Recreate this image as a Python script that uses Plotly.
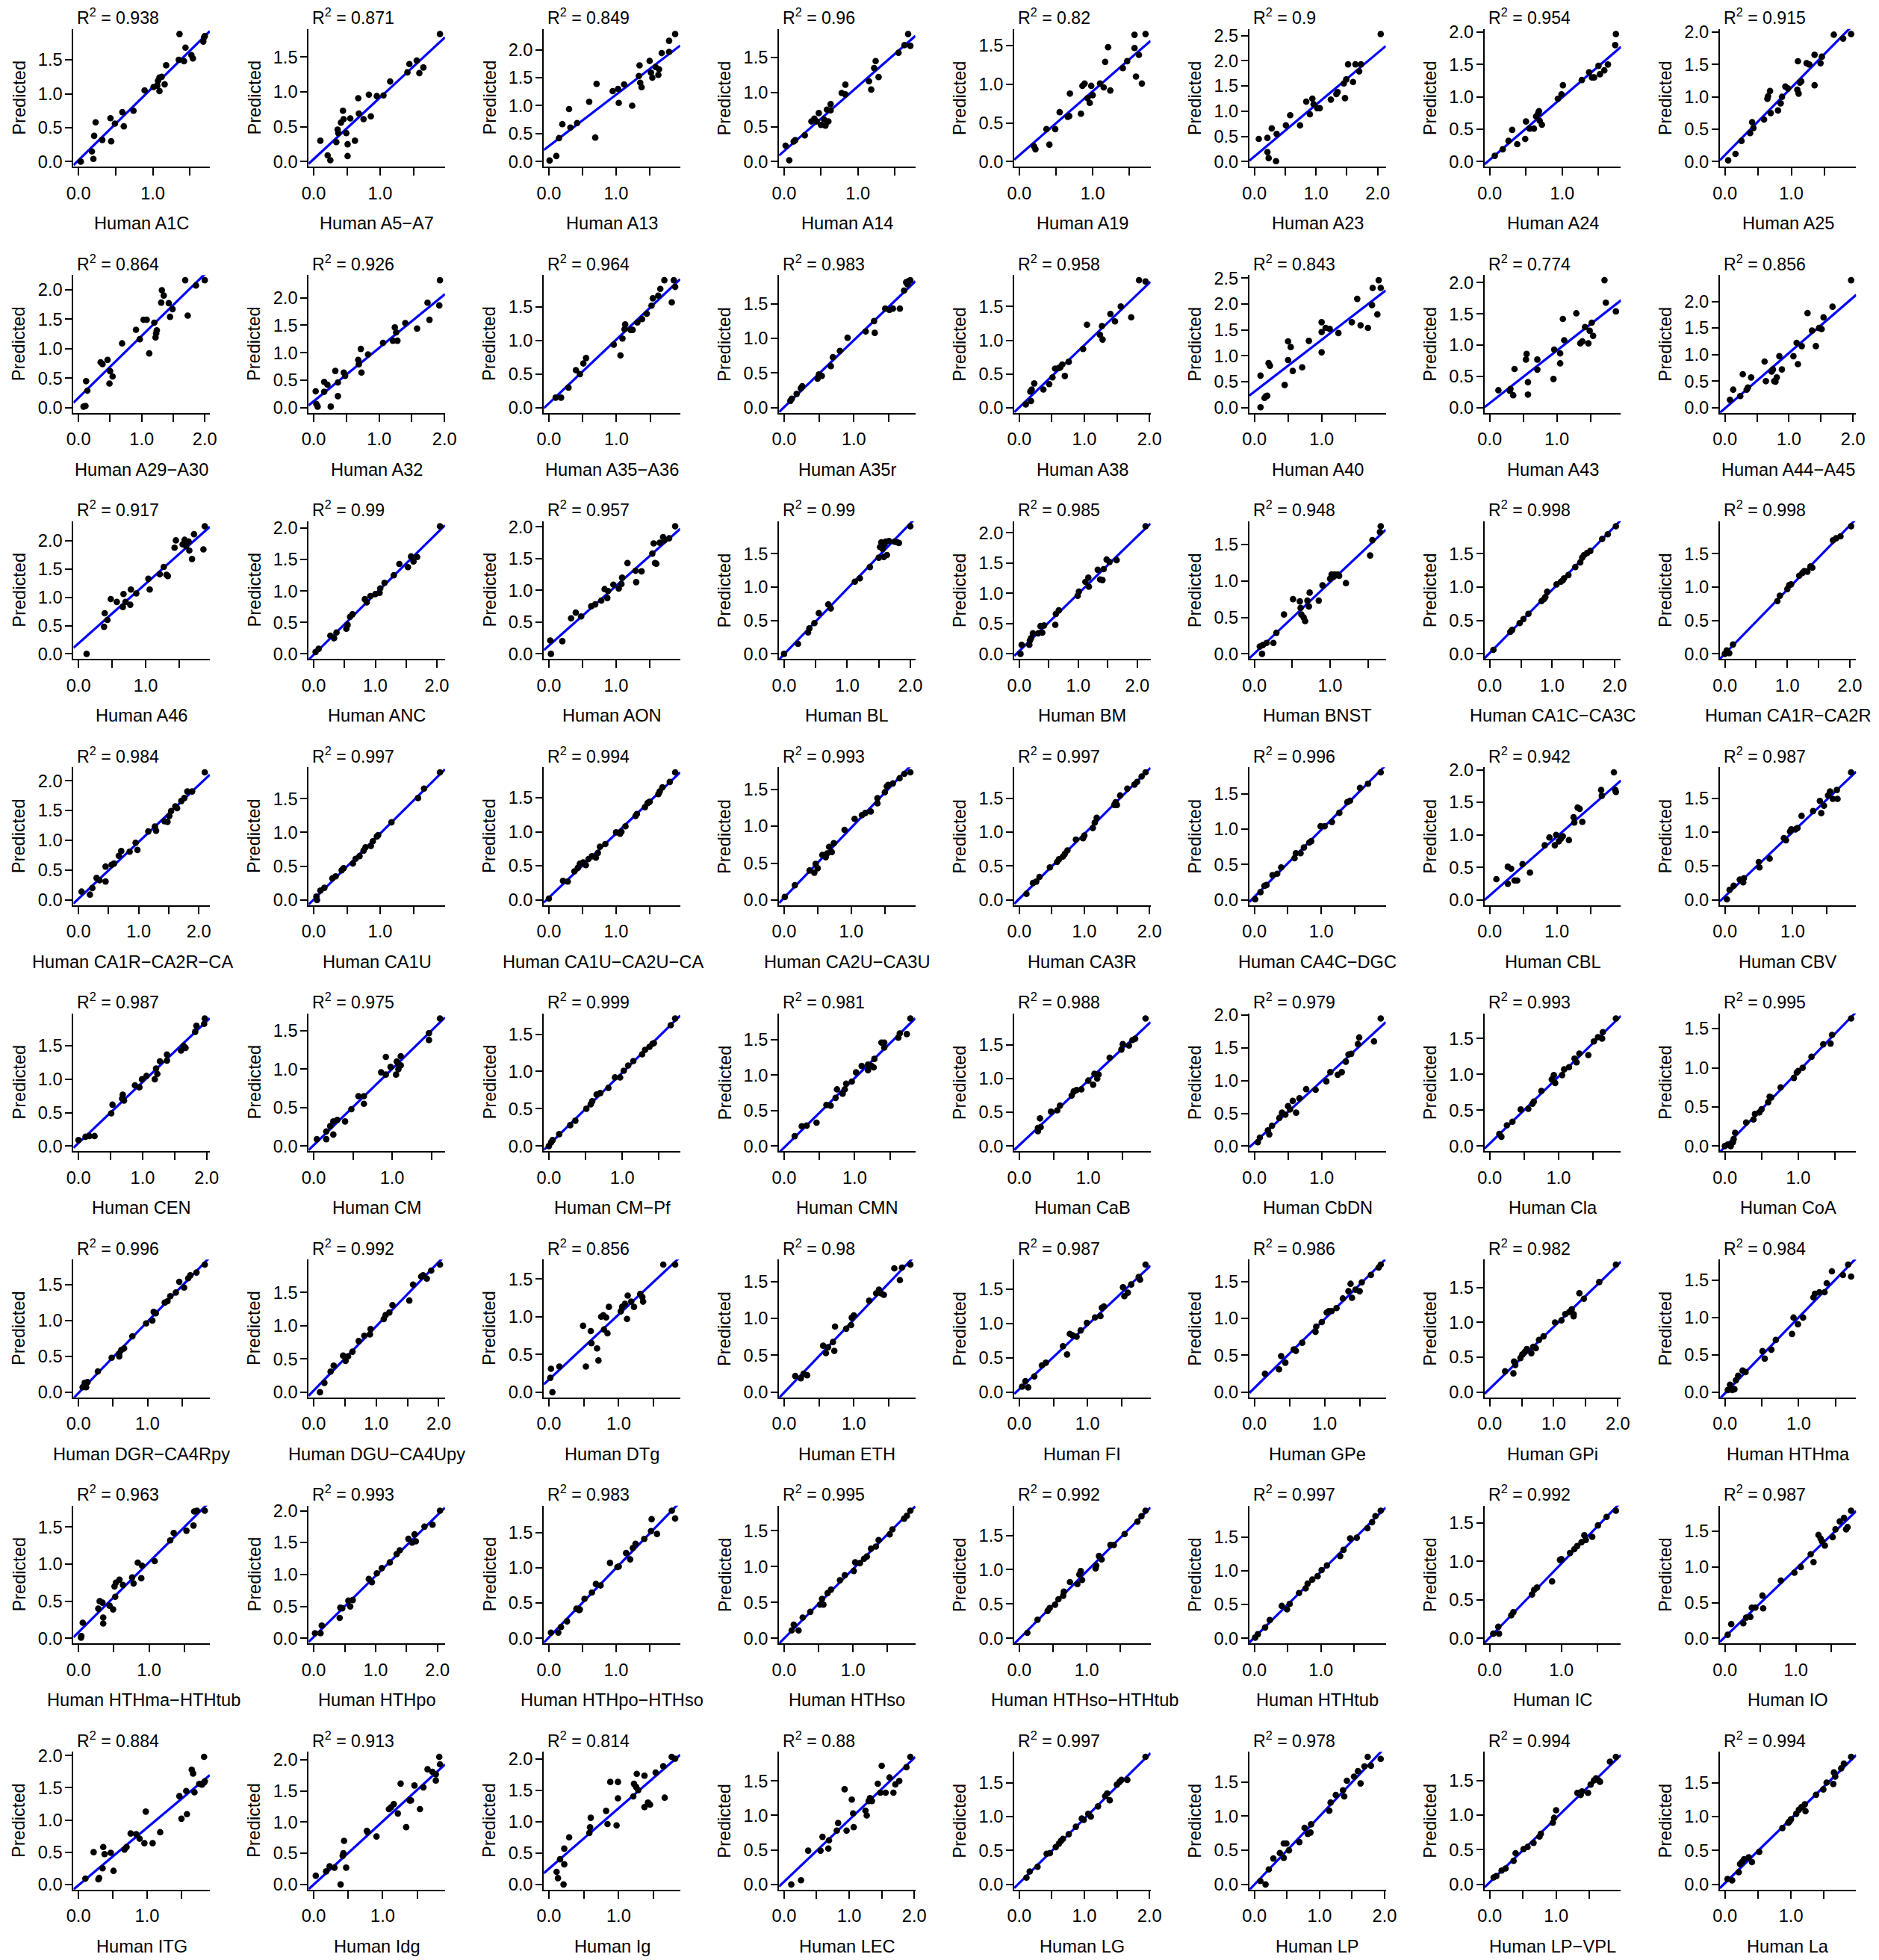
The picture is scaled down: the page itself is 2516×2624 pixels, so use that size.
import numpy as np
import plotly.graph_objects as go

# ---------------- data ----------------
names = [
    "Human A1C", "Human A5−A7", "Human A13", "Human A14", "Human A19", "Human A23", "Human A24", "Human A25",
    "Human A29−A30", "Human A32", "Human A35−A36", "Human A35r", "Human A38", "Human A40", "Human A43", "Human A44−A45",
    "Human A46", "Human ANC", "Human AON", "Human BL", "Human BM", "Human BNST", "Human CA1C−CA3C", "Human CA1R−CA2R",
    "Human CA1R−CA2R−CA3R", "Human CA1U", "Human CA1U−CA2U−CA3U", "Human CA2U−CA3U", "Human CA3R", "Human CA4C−DGC", "Human CBL", "Human CBV",
    "Human CEN", "Human CM", "Human CM−Pf", "Human CMN", "Human CaB", "Human CbDN", "Human Cla", "Human CoA",
    "Human DGR−CA4Rpy", "Human DGU−CA4Upy", "Human DTg", "Human ETH", "Human FI", "Human GPe", "Human GPi", "Human HTHma",
    "Human HTHma−HTHtub", "Human HTHpo", "Human HTHpo−HTHso", "Human HTHso", "Human HTHso−HTHtub", "Human HTHtub", "Human IC", "Human IO",
    "Human ITG", "Human Idg", "Human Ig", "Human LEC", "Human LG", "Human LP", "Human LP−VPL", "Human La",
]
r2 = [
    "0.938", "0.871", "0.849", "0.96", "0.82", "0.9", "0.954", "0.915",
    "0.864", "0.926", "0.964", "0.983", "0.958", "0.843", "0.774", "0.856",
    "0.917", "0.99", "0.957", "0.99", "0.985", "0.948", "0.998", "0.998",
    "0.984", "0.997", "0.994", "0.993", "0.997", "0.996", "0.942", "0.987",
    "0.987", "0.975", "0.999", "0.981", "0.988", "0.979", "0.993", "0.995",
    "0.996", "0.992", "0.856", "0.98", "0.987", "0.986", "0.982", "0.984",
    "0.963", "0.993", "0.983", "0.995", "0.992", "0.997", "0.992", "0.987",
    "0.884", "0.913", "0.814", "0.88", "0.997", "0.978", "0.994", "0.994",
]

p01_x = [0.03,0.18,0.20,0.21,0.23,0.32,0.43,0.44,0.49,0.59,0.61,0.74,0.89,1.01,1.06,1.07,1.09,1.12,1.09,1.16,1.18,1.35,1.36,1.42,1.44,1.52,1.54,1.68,1.69,1.70]
p01_y = [0.00,0.15,0.04,0.38,0.58,0.32,0.64,0.30,0.56,0.73,0.52,0.75,1.05,1.10,1.12,1.19,1.24,1.25,1.04,1.14,1.42,1.50,1.88,1.48,1.68,1.57,1.52,1.77,1.83,1.85]
p02_x = [0.10,0.21,0.25,0.34,0.36,0.37,0.41,0.44,0.45,0.49,0.51,0.51,0.55,0.62,0.67,0.68,0.75,0.83,0.86,0.95,1.05,1.15,1.41,1.44,1.55,1.59,1.65,1.90]
p02_y = [0.30,0.09,0.02,0.28,0.46,0.41,0.56,0.73,0.61,0.41,0.25,0.08,0.62,0.30,0.91,0.69,0.61,0.96,0.65,0.94,0.95,1.15,1.28,1.40,1.45,1.27,1.35,1.83]
p03_x = [0.01,0.11,0.15,0.20,0.30,0.32,0.42,0.60,0.69,0.71,0.95,1.03,1.04,1.12,1.24,1.34,1.35,1.36,1.38,1.50,1.52,1.54,1.59,1.63,1.64,1.68,1.79,1.79,1.88]
p03_y = [0.02,0.10,0.42,0.67,0.94,0.61,0.69,1.07,0.43,1.39,1.26,1.30,1.05,1.38,1.00,1.53,1.72,1.41,1.33,1.80,1.59,1.50,1.69,1.55,1.65,1.94,2.16,1.96,2.28]
p04_x = [0.02,0.07,0.13,0.15,0.28,0.37,0.41,0.44,0.47,0.50,0.54,0.56,0.58,0.60,0.63,0.63,0.78,0.83,0.83,1.15,1.18,1.22,1.24,1.28,1.55,1.63,1.68,1.71]
p04_y = [0.23,0.02,0.29,0.31,0.38,0.58,0.62,0.58,0.70,0.53,0.61,0.52,0.75,0.58,0.83,0.74,0.99,1.11,0.97,1.16,1.04,1.35,1.45,1.22,1.57,1.68,1.84,1.67]
p05_x = [0.20,0.22,0.37,0.41,0.49,0.55,0.66,0.68,0.69,0.84,0.86,0.89,0.93,0.96,0.98,1.00,1.10,1.15,1.17,1.21,1.24,1.41,1.47,1.57,1.57,1.59,1.63,1.67,1.72]
p05_y = [0.20,0.16,0.42,0.22,0.42,0.64,0.58,0.59,0.88,0.62,0.98,1.01,0.82,0.76,0.98,0.86,1.01,0.96,1.29,1.48,0.92,1.21,1.30,1.47,1.64,1.10,1.38,1.01,1.65]
p06_x = [0.07,0.21,0.21,0.23,0.28,0.35,0.36,0.51,0.58,0.74,0.84,0.90,0.94,0.96,1.02,1.06,1.24,1.33,1.35,1.45,1.47,1.49,1.52,1.60,1.64,1.70,1.73,2.05]
p06_y = [0.45,0.47,0.19,0.07,0.66,0.01,0.55,0.72,0.92,0.72,1.19,0.94,1.25,1.14,1.06,1.06,1.23,1.34,1.38,1.55,1.26,1.63,1.93,1.58,1.93,1.79,1.93,2.53]
p07_x = [0.07,0.18,0.26,0.31,0.38,0.49,0.50,0.55,0.61,0.64,0.67,0.68,0.69,0.72,0.94,0.99,1.01,1.27,1.37,1.41,1.44,1.50,1.52,1.58,1.63,1.73,1.74]
p07_y = [0.09,0.19,0.32,0.49,0.27,0.35,0.62,0.51,0.51,0.70,0.75,0.78,0.63,0.57,0.97,1.04,1.18,1.26,1.38,1.30,1.30,1.48,1.35,1.41,1.50,1.80,1.97]
p08_x = [0.05,0.16,0.25,0.38,0.41,0.43,0.59,0.64,0.65,0.68,0.69,0.80,0.84,0.86,0.91,0.95,1.09,1.11,1.13,1.15,1.10,1.23,1.27,1.35,1.35,1.44,1.46,1.64,1.78,1.90]
p08_y = [0.02,0.12,0.32,0.44,0.61,0.52,0.65,0.97,1.01,1.09,0.75,0.79,0.90,1.00,1.16,1.13,1.11,1.05,1.22,1.24,1.55,1.52,1.50,1.18,1.65,1.52,1.62,1.96,1.90,1.97]
p09_x = [0.08,0.11,0.12,0.14,0.35,0.38,0.46,0.50,0.49,0.54,0.69,0.91,0.97,1.03,1.08,1.12,1.20,1.22,1.23,1.24,1.31,1.32,1.35,1.43,1.45,1.49,1.69,1.73,1.86,2.00]
p09_y = [0.02,0.03,0.45,0.29,0.77,0.74,0.81,0.62,0.41,0.53,1.09,1.32,1.16,1.49,1.49,0.92,1.44,1.19,1.26,1.31,1.78,1.99,1.90,1.77,1.54,1.67,2.16,1.56,2.07,2.16]
p10_x = [0.03,0.04,0.06,0.16,0.16,0.21,0.26,0.33,0.37,0.37,0.46,0.48,0.68,0.69,0.72,0.73,0.83,1.06,1.21,1.24,1.26,1.28,1.40,1.58,1.74,1.77,1.92,1.93]
p10_y = [0.30,0.07,0.02,0.29,0.47,0.42,0.02,0.67,0.46,0.21,0.64,0.58,0.87,0.79,1.07,0.64,0.97,1.18,1.22,1.46,1.37,1.22,1.54,1.44,1.91,1.60,1.86,2.32]
p11_x = [0.10,0.18,0.29,0.40,0.46,0.51,0.55,0.96,1.06,1.09,1.12,1.13,1.21,1.24,1.31,1.38,1.45,1.52,1.54,1.62,1.65,1.71,1.82,1.85,1.87]
p11_y = [0.15,0.15,0.30,0.56,0.50,0.66,0.74,0.94,0.78,1.03,1.17,1.24,1.16,1.16,1.27,1.32,1.40,1.52,1.63,1.67,1.77,1.90,1.57,1.90,1.80]
p12_x = [0.09,0.11,0.18,0.24,0.26,0.48,0.50,0.54,0.67,0.70,0.80,0.91,1.17,1.29,1.30,1.45,1.51,1.56,1.66,1.72,1.75,1.77,1.79,1.81]
p12_y = [0.10,0.13,0.20,0.28,0.31,0.42,0.48,0.46,0.60,0.73,0.82,1.01,1.10,1.25,1.08,1.43,1.41,1.43,1.43,1.69,1.81,1.78,1.83,1.84]
p13_x = [0.10,0.17,0.18,0.19,0.23,0.37,0.46,0.51,0.55,0.61,0.63,0.66,0.70,0.76,0.98,1.04,1.24,1.27,1.28,1.40,1.47,1.56,1.72,1.84,1.94]
p13_y = [0.05,0.24,0.10,0.27,0.36,0.27,0.35,0.45,0.58,0.59,0.60,0.64,0.47,0.68,0.87,1.23,1.08,1.21,1.01,1.39,1.28,1.50,1.34,1.89,1.87]
p14_x = [0.09,0.09,0.15,0.17,0.19,0.21,0.23,0.45,0.50,0.50,0.54,0.57,0.71,0.81,1.00,1.00,1.00,1.06,1.12,1.25,1.45,1.53,1.58,1.69,1.75,1.76,1.83,1.85,1.88]
p14_y = [0.01,0.62,0.19,0.22,0.23,0.86,0.81,0.44,1.28,0.92,1.17,0.71,0.78,1.29,1.65,1.46,1.07,1.54,1.52,1.44,1.65,2.10,1.59,1.54,1.98,2.31,1.80,2.46,2.31]
p15_x = [0.13,0.30,0.31,0.35,0.37,0.54,0.55,0.57,0.57,0.71,0.71,0.95,0.96,1.05,1.05,1.09,1.11,1.29,1.35,1.38,1.42,1.47,1.49,1.52,1.54,1.71,1.73,1.88]
p15_y = [0.28,0.27,0.30,0.20,0.62,0.77,0.86,0.41,0.21,0.61,0.77,0.46,0.93,0.87,0.71,1.42,1.08,1.51,1.03,1.06,1.29,1.03,1.23,1.36,1.15,2.04,1.68,1.54]
p16_x = [0.08,0.13,0.24,0.28,0.34,0.36,0.41,0.62,0.64,0.73,0.75,0.77,0.79,0.81,0.85,0.89,1.07,1.12,1.14,1.20,1.29,1.36,1.42,1.47,1.51,1.54,1.68,1.97]
p16_y = [0.15,0.34,0.22,0.63,0.34,0.38,0.57,0.87,0.50,0.68,0.72,0.50,0.49,0.57,0.97,0.72,0.97,1.22,0.82,1.16,1.78,1.45,1.16,1.50,1.48,1.70,1.90,2.40]
p17_x = [0.12,0.38,0.39,0.43,0.48,0.57,0.66,0.67,0.70,0.77,0.78,0.86,1.04,1.06,1.21,1.27,1.31,1.33,1.43,1.45,1.55,1.58,1.60,1.64,1.65,1.69,1.72,1.86,1.88]
p17_y = [0.00,0.48,0.72,0.60,0.97,0.92,0.83,1.06,0.92,0.87,1.14,1.07,1.33,1.14,1.41,1.54,1.40,1.38,1.88,2.01,1.94,2.02,1.91,1.99,1.83,1.68,2.12,1.85,2.26]
p18_x = [0.03,0.08,0.27,0.33,0.37,0.53,0.55,0.59,0.63,0.83,0.86,0.92,1.00,1.07,1.08,1.15,1.30,1.39,1.53,1.58,1.62,1.68,2.05]
p18_y = [0.03,0.08,0.29,0.25,0.34,0.40,0.46,0.59,0.63,0.87,0.82,0.92,0.95,0.97,1.04,1.13,1.25,1.43,1.38,1.55,1.47,1.54,2.03]
p19_x = [0.02,0.03,0.20,0.33,0.40,0.48,0.63,0.69,0.78,0.83,0.87,0.88,0.96,1.04,1.08,1.09,1.17,1.29,1.30,1.38,1.54,1.56,1.58,1.60,1.65,1.70,1.72,1.79,1.88]
p19_y = [0.21,0.00,0.20,0.56,0.65,0.59,0.75,0.78,0.84,1.02,0.88,0.99,1.09,1.03,1.10,1.20,1.43,1.31,1.13,1.30,1.58,1.74,1.43,1.42,1.75,1.84,1.79,1.82,2.01]
p20_x = [0.00,0.22,0.38,0.40,0.48,0.55,0.70,0.74,1.12,1.20,1.36,1.50,1.52,1.54,1.56,1.58,1.59,1.61,1.63,1.66,1.75,1.79,1.82,2.00]
p20_y = [0.00,0.15,0.32,0.38,0.46,0.61,0.74,0.68,1.08,1.13,1.30,1.44,1.60,1.67,1.57,1.45,1.64,1.68,1.48,1.69,1.68,1.67,1.66,1.91]
p21_x = [0.02,0.04,0.17,0.18,0.20,0.23,0.32,0.36,0.39,0.42,0.61,0.62,0.67,0.99,1.01,1.12,1.17,1.18,1.33,1.37,1.41,1.43,1.48,1.53,1.65,2.14]
p21_y = [0.00,0.15,0.15,0.22,0.26,0.34,0.34,0.46,0.35,0.47,0.48,0.66,0.72,0.96,1.03,1.19,1.26,1.11,1.39,1.23,1.22,1.40,1.56,1.52,1.55,2.11]
p22_x = [0.07,0.10,0.11,0.16,0.25,0.29,0.39,0.51,0.60,0.61,0.62,0.65,0.67,0.70,0.72,0.73,0.85,0.90,1.00,1.02,1.05,1.06,1.10,1.12,1.21,1.53,1.56,1.66,1.67]
p22_y = [0.10,0.00,0.12,0.15,0.15,0.29,0.54,0.75,0.72,0.63,0.54,0.50,0.45,0.73,0.65,0.84,0.73,0.94,1.03,1.09,1.06,1.09,1.09,1.07,0.97,1.35,1.56,1.67,1.75]
p23_x = [0.06,0.33,0.36,0.48,0.54,0.62,0.83,0.87,0.89,0.92,1.07,1.14,1.17,1.19,1.26,1.37,1.45,1.48,1.51,1.56,1.61,1.80,1.89,2.02]
p23_y = [0.06,0.33,0.36,0.46,0.52,0.60,0.79,0.82,0.85,0.93,1.04,1.08,1.10,1.13,1.18,1.30,1.37,1.44,1.48,1.51,1.54,1.72,1.79,1.91]
p24_x = [0.00,0.03,0.07,0.13,0.84,0.88,1.00,1.03,1.06,1.19,1.24,1.27,1.32,1.37,1.40,1.73,1.78,1.85,2.02]
p24_y = [0.00,0.05,0.01,0.14,0.79,0.87,0.97,1.03,1.04,1.17,1.21,1.24,1.23,1.31,1.29,1.70,1.73,1.76,1.91]
p25_x = [0.05,0.19,0.23,0.30,0.35,0.45,0.45,0.55,0.59,0.67,0.71,0.85,0.95,0.98,1.16,1.27,1.29,1.43,1.48,1.51,1.54,1.61,1.64,1.71,1.76,1.81,1.89,2.10]
p25_y = [0.14,0.09,0.20,0.37,0.33,0.31,0.56,0.59,0.61,0.74,0.82,0.81,0.96,0.84,1.15,1.23,1.16,1.32,1.31,1.41,1.49,1.57,1.54,1.66,1.71,1.82,1.82,2.14]
p26_x = [0.04,0.05,0.10,0.16,0.28,0.33,0.42,0.45,0.59,0.63,0.69,0.75,0.78,0.86,0.89,0.95,0.97,1.17,1.57,1.66,1.90]
p26_y = [0.05,0.00,0.14,0.18,0.32,0.35,0.44,0.47,0.54,0.61,0.65,0.73,0.78,0.80,0.87,0.94,0.96,1.15,1.51,1.65,1.89]
p27_x = [0.00,0.21,0.28,0.38,0.43,0.46,0.51,0.55,0.59,0.64,0.70,0.73,0.76,0.84,1.00,1.06,1.08,1.14,1.29,1.31,1.43,1.47,1.50,1.63,1.65,1.69,1.80,1.88]
p27_y = [0.02,0.28,0.27,0.42,0.47,0.53,0.55,0.51,0.60,0.64,0.62,0.69,0.78,0.82,0.99,0.97,1.00,1.08,1.23,1.26,1.36,1.42,1.44,1.55,1.59,1.65,1.73,1.87]
p28_x = [0.01,0.16,0.38,0.45,0.47,0.50,0.57,0.62,0.64,0.67,0.71,0.74,0.90,1.05,1.16,1.21,1.29,1.39,1.39,1.50,1.53,1.55,1.62,1.72,1.79,1.88]
p28_y = [0.04,0.20,0.40,0.37,0.49,0.43,0.61,0.58,0.63,0.72,0.65,0.77,0.95,1.10,1.15,1.18,1.20,1.31,1.38,1.46,1.54,1.56,1.58,1.65,1.71,1.73]
p29_x = [0.11,0.21,0.26,0.31,0.47,0.58,0.61,0.67,0.70,0.74,0.87,0.98,1.00,1.13,1.16,1.19,1.46,1.48,1.50,1.55,1.66,1.77,1.81,1.88,1.94]
p29_y = [0.09,0.25,0.27,0.34,0.48,0.56,0.60,0.64,0.68,0.73,0.89,0.91,0.95,1.06,1.14,1.21,1.40,1.44,1.40,1.54,1.64,1.70,1.74,1.82,1.88]
p30_x = [0.01,0.09,0.15,0.18,0.27,0.34,0.40,0.60,0.62,0.69,0.74,0.82,0.85,0.99,1.05,1.16,1.27,1.39,1.43,1.58,1.70,1.89]
p30_y = [0.01,0.11,0.20,0.21,0.35,0.37,0.46,0.59,0.66,0.66,0.74,0.81,0.83,1.04,1.04,1.10,1.23,1.38,1.40,1.58,1.64,1.80]
p31_x = [0.10,0.27,0.27,0.32,0.37,0.41,0.49,0.60,0.82,0.89,0.97,0.99,1.03,1.06,1.09,1.18,1.25,1.26,1.31,1.34,1.38,1.66,1.67,1.85,1.87,1.88]
p31_y = [0.32,0.25,0.51,0.48,0.30,0.30,0.55,0.42,0.84,0.96,0.84,1.00,0.90,0.94,0.98,0.92,1.27,1.19,1.42,1.40,1.20,1.69,1.60,1.96,1.69,1.66]
p32_x = [0.03,0.07,0.13,0.22,0.27,0.28,0.50,0.51,0.66,0.87,0.90,0.96,0.98,1.04,1.07,1.13,1.30,1.40,1.42,1.46,1.52,1.55,1.59,1.65,1.66,1.86]
p32_y = [0.01,0.15,0.21,0.30,0.26,0.32,0.56,0.48,0.61,0.91,0.88,1.01,1.04,1.04,1.06,1.24,1.31,1.46,1.28,1.39,1.54,1.60,1.49,1.62,1.49,1.88]
p33_x = [0.00,0.11,0.17,0.25,0.51,0.53,0.68,0.69,0.71,0.88,0.95,0.99,1.06,1.19,1.21,1.23,1.27,1.38,1.38,1.60,1.64,1.67,1.82,1.84,1.96,1.97]
p33_y = [0.09,0.14,0.15,0.15,0.49,0.62,0.71,0.77,0.68,0.91,0.88,1.00,1.05,1.00,1.16,1.08,1.27,1.37,1.28,1.43,1.50,1.47,1.71,1.80,1.83,1.91]
p34_x = [0.04,0.16,0.16,0.21,0.25,0.25,0.30,0.40,0.48,0.57,0.64,0.64,0.86,0.92,0.92,0.98,1.05,1.06,1.08,1.09,1.11,1.11,1.47,1.47,1.61]
p34_y = [0.09,0.19,0.09,0.26,0.32,0.15,0.34,0.32,0.48,0.65,0.55,0.65,0.96,1.16,0.93,1.03,0.93,1.10,1.00,1.05,1.17,1.05,1.47,1.38,1.66]
p35_x = [0.00,0.03,0.05,0.14,0.29,0.36,0.51,0.57,0.59,0.65,0.70,0.81,0.90,0.97,1.02,1.08,1.15,1.27,1.31,1.37,1.41,1.43,1.66,1.72]
p35_y = [0.00,0.05,0.08,0.16,0.28,0.34,0.50,0.56,0.60,0.69,0.71,0.78,0.92,0.92,1.01,1.08,1.14,1.23,1.29,1.33,1.37,1.38,1.62,1.71]
p36_x = [0.15,0.25,0.32,0.46,0.60,0.66,0.73,0.75,0.83,0.86,0.88,0.96,1.02,1.10,1.19,1.19,1.24,1.27,1.28,1.38,1.42,1.42,1.62,1.64,1.74,1.79]
p36_y = [0.14,0.28,0.29,0.33,0.58,0.57,0.68,0.80,0.74,0.80,0.88,0.91,1.04,1.13,1.07,1.15,1.13,1.11,1.23,1.46,1.46,1.39,1.53,1.59,1.58,1.80]
p37_x = [0.27,0.27,0.30,0.31,0.46,0.55,0.59,0.76,0.79,0.83,0.90,1.00,1.07,1.09,1.13,1.15,1.31,1.48,1.50,1.59,1.64,1.68,1.83]
p37_y = [0.27,0.22,0.41,0.28,0.51,0.53,0.60,0.75,0.81,0.83,0.84,0.97,0.91,1.07,1.00,1.06,1.31,1.43,1.51,1.49,1.57,1.59,1.89]
p38_x = [0.05,0.08,0.20,0.22,0.26,0.37,0.41,0.46,0.50,0.53,0.57,0.62,0.67,0.77,0.91,1.07,1.13,1.24,1.30,1.36,1.40,1.44,1.54,1.56,1.78,1.88]
p38_y = [0.06,0.13,0.24,0.18,0.31,0.43,0.51,0.48,0.61,0.56,0.69,0.51,0.73,0.87,0.86,0.99,1.13,1.09,1.13,1.29,1.40,1.41,1.56,1.66,1.60,1.95]
p39_x = [0.14,0.17,0.25,0.33,0.45,0.56,0.62,0.64,0.75,0.90,0.93,0.95,1.05,1.08,1.15,1.23,1.26,1.30,1.43,1.51,1.57,1.63,1.64,1.83]
p39_y = [0.17,0.13,0.29,0.34,0.51,0.52,0.59,0.62,0.77,0.93,0.99,0.88,0.99,1.07,1.10,1.22,1.17,1.29,1.27,1.46,1.52,1.50,1.59,1.78]
p40_x = [0.00,0.04,0.08,0.11,0.12,0.14,0.29,0.39,0.41,0.47,0.50,0.59,0.61,0.63,0.76,0.94,0.98,1.00,1.06,1.18,1.34,1.44,1.46,1.72]
p40_y = [0.00,0.02,0.00,0.05,0.09,0.17,0.30,0.34,0.41,0.43,0.47,0.56,0.63,0.62,0.75,0.87,0.94,0.96,1.00,1.14,1.30,1.31,1.42,1.63]
p41_x = [0.06,0.09,0.11,0.13,0.28,0.48,0.59,0.59,0.62,0.66,0.78,0.98,1.07,1.09,1.12,1.25,1.29,1.33,1.41,1.46,1.53,1.59,1.62,1.71,1.83]
p41_y = [0.07,0.13,0.07,0.14,0.29,0.48,0.50,0.54,0.59,0.61,0.78,0.96,1.00,1.12,1.10,1.25,1.27,1.34,1.39,1.54,1.46,1.59,1.63,1.67,1.78]
p42_x = [0.10,0.17,0.27,0.32,0.47,0.51,0.55,0.62,0.72,0.81,0.90,0.91,1.12,1.15,1.21,1.26,1.53,1.59,1.72,1.75,1.81,1.88,2.02]
p42_y = [0.00,0.14,0.31,0.40,0.55,0.47,0.54,0.61,0.77,0.85,0.87,0.95,1.10,1.16,1.20,1.31,1.38,1.62,1.74,1.76,1.71,1.83,1.92]
p43_x = [0.02,0.03,0.05,0.15,0.49,0.53,0.60,0.61,0.69,0.71,0.75,0.78,0.79,0.82,0.84,0.86,1.03,1.05,1.09,1.12,1.13,1.18,1.22,1.31,1.34,1.35,1.64,1.81]
p43_y = [0.19,0.31,0.00,0.34,0.88,0.34,0.81,0.65,0.58,0.42,1.00,1.02,0.83,0.99,0.78,1.13,1.07,1.13,1.17,0.97,1.28,1.20,1.13,1.30,1.26,1.20,1.69,1.69]
p44_x = [0.16,0.24,0.28,0.33,0.56,0.60,0.63,0.70,0.72,0.73,0.89,0.96,0.97,1.00,1.22,1.32,1.36,1.39,1.43,1.58,1.66,1.69,1.81]
p44_y = [0.22,0.19,0.25,0.23,0.63,0.53,0.61,0.68,0.56,0.89,0.86,0.91,1.01,1.04,1.24,1.34,1.39,1.34,1.32,1.68,1.52,1.69,1.73]
p45_x = [0.04,0.09,0.13,0.22,0.33,0.39,0.64,0.70,0.74,0.78,0.84,0.90,0.99,1.11,1.19,1.21,1.24,1.52,1.54,1.59,1.64,1.75,1.77,1.85]
p45_y = [0.08,0.16,0.07,0.23,0.39,0.43,0.67,0.55,0.85,0.83,0.81,0.90,1.01,1.09,1.11,1.23,1.25,1.53,1.40,1.45,1.57,1.68,1.64,1.86]
p46_x = [0.15,0.35,0.38,0.44,0.56,0.59,0.68,0.87,0.88,0.96,1.03,1.06,1.10,1.17,1.26,1.34,1.37,1.39,1.44,1.50,1.53,1.66,1.77,1.80]
p46_y = [0.25,0.31,0.49,0.40,0.58,0.56,0.67,0.82,0.89,0.95,1.08,1.10,1.10,1.14,1.27,1.37,1.47,1.28,1.39,1.37,1.49,1.59,1.69,1.73]
p47_x = [0.24,0.37,0.38,0.40,0.48,0.51,0.55,0.58,0.65,0.68,0.72,0.77,0.84,1.02,1.12,1.18,1.24,1.28,1.31,1.31,1.40,1.47,1.71,1.97]
p47_y = [0.30,0.27,0.44,0.39,0.49,0.54,0.58,0.62,0.56,0.65,0.63,0.75,0.80,1.00,1.03,1.12,1.15,1.19,1.12,1.09,1.42,1.34,1.58,1.83]
p48_x = [0.04,0.07,0.10,0.13,0.15,0.18,0.24,0.28,0.51,0.54,0.63,0.69,0.91,0.93,0.99,1.06,1.20,1.22,1.28,1.35,1.38,1.45,1.60,1.67,1.71]
p48_y = [0.03,0.10,0.03,0.04,0.16,0.22,0.29,0.27,0.55,0.45,0.57,0.70,0.78,1.00,0.91,1.00,1.27,1.32,1.34,1.34,1.46,1.62,1.57,1.71,1.55]
p49_x = [0.035,0.04,0.06,0.28,0.30,0.34,0.35,0.35,0.44,0.49,0.52,0.51,0.53,0.58,0.63,0.76,0.78,0.84,0.90,0.89,1.08,1.30,1.35,1.53,1.63,1.64,1.68,1.79]
p49_y = [0.01,0.03,0.21,0.40,0.50,0.48,0.28,0.20,0.44,0.39,0.56,0.70,0.75,0.79,0.72,0.82,0.74,1.02,0.98,0.81,1.04,1.32,1.42,1.45,1.52,1.71,1.72,1.72]
p50_x = [0.02,0.11,0.13,0.42,0.43,0.46,0.56,0.59,0.63,0.89,0.94,1.02,1.10,1.23,1.34,1.39,1.53,1.59,1.63,1.65,1.79,1.92,2.04]
p50_y = [0.08,0.08,0.20,0.32,0.48,0.47,0.59,0.50,0.60,0.93,0.88,1.02,1.10,1.19,1.32,1.38,1.56,1.50,1.63,1.52,1.75,1.78,2.00]
p51_x = [0.03,0.14,0.18,0.27,0.41,0.45,0.46,0.53,0.64,0.70,0.77,0.91,1.02,1.04,1.15,1.21,1.25,1.29,1.42,1.52,1.53,1.61,1.83,1.88]
p51_y = [0.08,0.08,0.16,0.24,0.42,0.40,0.41,0.56,0.65,0.77,0.75,1.07,1.01,1.02,1.21,1.12,1.28,1.34,1.41,1.52,1.69,1.48,1.81,1.70]
p52_x = [0.11,0.14,0.21,0.27,0.38,0.52,0.55,0.57,0.63,0.68,0.81,0.88,1.01,1.03,1.10,1.16,1.20,1.26,1.33,1.37,1.53,1.57,1.74,1.78,1.83]
p52_y = [0.11,0.19,0.11,0.29,0.37,0.47,0.55,0.47,0.63,0.68,0.81,0.88,0.94,1.06,1.05,1.11,1.14,1.25,1.28,1.37,1.45,1.52,1.67,1.71,1.78]
p53_x = [0.12,0.27,0.42,0.45,0.53,0.58,0.65,0.66,0.75,0.86,0.89,0.91,0.93,1.13,1.14,1.18,1.22,1.35,1.40,1.56,1.75,1.81,1.87]
p53_y = [0.08,0.27,0.40,0.44,0.49,0.57,0.62,0.68,0.82,0.79,0.93,0.98,0.85,1.02,1.06,1.20,1.15,1.36,1.36,1.52,1.70,1.78,1.86]
p54_x = [0.01,0.05,0.16,0.23,0.41,0.49,0.53,0.67,0.77,0.80,0.87,0.95,1.01,1.09,1.29,1.34,1.44,1.54,1.70,1.77,1.82,1.90]
p54_y = [0.01,0.06,0.16,0.27,0.48,0.43,0.51,0.67,0.74,0.81,0.87,0.92,1.01,1.08,1.22,1.31,1.48,1.49,1.63,1.72,1.81,1.89]
p55_x = [0.05,0.12,0.13,0.30,0.33,0.59,0.62,0.66,0.87,0.98,1.00,1.12,1.18,1.22,1.28,1.32,1.34,1.43,1.51,1.63,1.76]
p55_y = [0.06,0.15,0.06,0.30,0.34,0.57,0.63,0.66,0.74,1.02,1.03,1.11,1.16,1.20,1.25,1.34,1.28,1.32,1.47,1.58,1.66]
p56_x = [0.04,0.09,0.26,0.30,0.36,0.38,0.43,0.53,0.54,0.79,0.98,1.07,1.21,1.25,1.32,1.35,1.37,1.41,1.52,1.56,1.62,1.68,1.71,1.73,1.78]
p56_y = [0.05,0.20,0.21,0.29,0.30,0.43,0.43,0.60,0.42,0.81,0.92,1.00,1.18,1.07,1.45,1.40,1.36,1.30,1.42,1.53,1.64,1.69,1.53,1.56,1.79]
p57_x = [0.10,0.22,0.29,0.30,0.35,0.36,0.38,0.47,0.51,0.67,0.70,0.76,0.84,0.89,0.96,0.98,1.08,1.19,1.47,1.50,1.57,1.58,1.65,1.67,1.69,1.76,1.80,1.83,1.84,1.83]
p57_y = [0.09,0.50,0.08,0.10,0.25,0.58,0.47,0.49,0.21,0.54,0.58,0.79,0.78,0.71,0.64,1.13,0.64,0.81,1.37,1.02,1.45,1.09,1.78,1.72,1.43,1.56,1.55,1.58,1.60,1.98]
p58_x = [0.03,0.18,0.23,0.30,0.39,0.42,0.43,0.44,0.47,0.77,0.78,0.91,1.09,1.12,1.16,1.22,1.26,1.34,1.39,1.41,1.46,1.54,1.59,1.65,1.72,1.77,1.77,1.82,1.83]
p58_y = [0.14,0.21,0.29,0.27,0.00,0.46,0.50,0.70,0.27,0.86,0.84,0.77,1.21,1.24,1.29,1.14,1.62,0.92,1.35,1.35,1.59,1.21,1.56,1.85,1.81,1.77,1.67,2.05,1.93]
p59_x = [0.11,0.13,0.16,0.21,0.22,0.22,0.29,0.58,0.59,0.60,0.82,0.84,0.88,0.97,0.99,0.99,1.21,1.22,1.25,1.28,1.26,1.37,1.37,1.42,1.45,1.53,1.64,1.66,1.76,1.81]
p59_y = [0.20,0.10,0.40,0.00,0.32,0.57,0.75,0.82,0.91,1.06,1.17,0.96,1.63,0.94,1.63,1.37,1.40,1.60,1.55,1.50,1.76,1.23,1.73,1.30,1.27,1.78,1.88,1.38,2.03,2.00]
p60_x = [0.11,0.26,0.37,0.56,0.59,0.68,0.69,0.81,0.83,0.93,0.96,1.04,1.06,1.07,1.25,1.27,1.30,1.32,1.35,1.44,1.48,1.50,1.56,1.62,1.68,1.71,1.77,1.88,1.94]
p60_y = [0.00,0.06,0.49,0.49,0.69,0.52,0.64,0.78,0.89,1.38,0.78,1.23,1.03,0.83,1.07,1.00,1.21,1.25,1.21,1.46,1.33,1.72,1.33,1.55,1.33,1.45,1.50,1.70,1.85]
p61_x = [0.11,0.16,0.28,0.42,0.47,0.56,0.61,0.64,0.67,0.76,0.87,0.96,0.99,1.06,1.10,1.21,1.32,1.35,1.39,1.50,1.54,1.57,1.66,1.94]
p61_y = [0.10,0.19,0.26,0.45,0.46,0.55,0.60,0.64,0.67,0.74,0.85,0.97,0.95,1.04,1.00,1.15,1.30,1.34,1.24,1.47,1.51,1.54,1.54,1.88]
p62_x = [0.09,0.17,0.22,0.29,0.39,0.45,0.45,0.49,0.53,0.69,0.77,0.82,0.87,0.86,1.15,1.17,1.25,1.36,1.38,1.42,1.53,1.59,1.63,1.69,1.74,1.79,1.94]
p62_y = [0.05,0.00,0.22,0.38,0.46,0.60,0.39,0.60,0.50,0.62,0.83,0.74,0.88,0.76,1.08,1.20,1.31,1.38,1.29,1.52,1.58,1.66,1.48,1.73,1.87,1.74,1.84]
p63_x = [0.06,0.10,0.18,0.24,0.36,0.39,0.51,0.57,0.66,0.75,0.77,0.95,0.97,1.00,1.32,1.37,1.39,1.48,1.52,1.57,1.60,1.64,1.66,1.81,1.90]
p63_y = [0.10,0.12,0.20,0.23,0.34,0.45,0.51,0.54,0.60,0.69,0.73,0.89,0.96,1.07,1.32,1.29,1.34,1.32,1.44,1.50,1.53,1.50,1.48,1.77,1.84]
p64_x = [0.04,0.11,0.21,0.23,0.26,0.29,0.36,0.41,0.52,0.87,0.96,0.98,1.00,1.08,1.12,1.16,1.21,1.22,1.38,1.49,1.54,1.64,1.65,1.67,1.76,1.80,1.91]
p64_y = [0.08,0.06,0.18,0.30,0.33,0.37,0.40,0.33,0.48,0.83,0.91,0.93,0.96,1.04,1.10,1.14,1.18,1.08,1.32,1.40,1.50,1.48,1.65,1.59,1.71,1.78,1.88]

xs = [p01_x, p02_x, p03_x, p04_x, p05_x, p06_x, p07_x, p08_x, p09_x, p10_x, p11_x, p12_x, p13_x, p14_x, p15_x, p16_x,
      p17_x, p18_x, p19_x, p20_x, p21_x, p22_x, p23_x, p24_x, p25_x, p26_x, p27_x, p28_x, p29_x, p30_x, p31_x, p32_x,
      p33_x, p34_x, p35_x, p36_x, p37_x, p38_x, p39_x, p40_x, p41_x, p42_x, p43_x, p44_x, p45_x, p46_x, p47_x, p48_x,
      p49_x, p50_x, p51_x, p52_x, p53_x, p54_x, p55_x, p56_x, p57_x, p58_x, p59_x, p60_x, p61_x, p62_x, p63_x, p64_x]
ys = [p01_y, p02_y, p03_y, p04_y, p05_y, p06_y, p07_y, p08_y, p09_y, p10_y, p11_y, p12_y, p13_y, p14_y, p15_y, p16_y,
      p17_y, p18_y, p19_y, p20_y, p21_y, p22_y, p23_y, p24_y, p25_y, p26_y, p27_y, p28_y, p29_y, p30_y, p31_y, p32_y,
      p33_y, p34_y, p35_y, p36_y, p37_y, p38_y, p39_y, p40_y, p41_y, p42_y, p43_y, p44_y, p45_y, p46_y, p47_y, p48_y,
      p49_y, p50_y, p51_y, p52_y, p53_y, p54_y, p55_y, p56_y, p57_y, p58_y, p59_y, p60_y, p61_y, p62_y, p63_y, p64_y]

# ---------------- layout constants (pixels of the final picture) ----------------
W, H = 2516, 2624              # figure size
BODY = 8                       # page margin around the figure
SX, SY = W / (W + 2 * BODY), H / (H + 2 * BODY)   # page -> picture scale
K = 1 / SX                     # size compensation
NCOL = 8
L0, T0 = 96.7, 36.7
COL_STEP, ROW_STEP = 316.2, 329.5
PW, PH = 183.3, 184.5
FONT = "Liberation Sans, Arial, Helvetica, sans-serif"
TICK_FS, TITLE_FS, R2_FS = 23.5 * K, 23.5 * K, 23 * K

AW = {c: 0.556 for c in "abdeghnopqu0123456789"}
AW.update({"c": 0.5, "s": 0.5, "y": 0.5, "k": 0.5, "v": 0.5, "x": 0.5, "z": 0.5, "f": 0.278, "t": 0.278,
           "i": 0.222, "l": 0.222, "j": 0.222, "r": 0.333, "m": 0.833, "w": 0.722, " ": 0.278, "−": 0.584, "-": 0.333,
           "A": 0.667, "B": 0.667, "C": 0.722, "D": 0.722, "E": 0.667, "F": 0.611, "G": 0.778, "H": 0.722, "I": 0.278,
           "L": 0.556, "M": 0.833, "N": 0.722, "O": 0.778, "P": 0.667, "R": 0.722, "S": 0.667, "T": 0.611,
           "U": 0.722, "V": 0.667})


def fx(p):
    return (p / SX - BODY) / W


def fy(p):
    return 1 - (p / SY - BODY) / H


def clip_label(text, center, right):
    widths = [AW.get(c, 0.556) * 23.5 for c in text]
    total = sum(widths)
    start = center - total / 2
    if start + total <= right:
        return text, center, "center"
    out, cum = "", 0.0
    for c, w in zip(text, widths):
        if start + cum + w / 2 > right:
            break
        out += c
        cum += w
    return out, start, "left"


fig = go.Figure()
layout = {}
annotations = []

for i in range(len(names)):
    r, c = divmod(i, NCOL)
    k = "" if i == 0 else str(i + 1)
    x = np.array(xs[i], dtype=float)
    y = np.array(ys[i], dtype=float)

    # R-style limits: range including 0, extended by 4 %
    xlo, xhi = min(0.0, x.min()), x.max()
    ylo, yhi = min(0.0, y.min()), y.max()
    xr = [xlo - 0.04 * (xhi - xlo), xhi + 0.04 * (xhi - xlo)]
    yr = [ylo - 0.04 * (yhi - ylo), yhi + 0.04 * (yhi - ylo)]

    slope, icpt = np.polyfit(x, y, 1)
    lx = np.array(xr)
    fig.add_trace(go.Scatter(x=lx, y=icpt + slope * lx, mode="lines",
                             line=dict(color="#0000FF", width=3.2 * K),
                             xaxis="x" + k, yaxis="y" + k, showlegend=False, hoverinfo="skip"))
    fig.add_trace(go.Scatter(x=x, y=y, mode="markers",
                             marker=dict(color="black", size=8.6 * K, line=dict(width=0)),
                             xaxis="x" + k, yaxis="y" + k, showlegend=False))

    left = L0 + c * COL_STEP
    top = T0 + r * ROW_STEP
    bottom = top + PH

    xt_all = [v / 2 for v in range(0, 9) if xr[0] <= v / 2 <= xr[1]]
    yt = [v / 2 for v in range(0, 9) if yr[0] <= v / 2 <= yr[1]]
    half_px = PW * 0.5 / (xr[1] - xr[0])
    xt = [v for v in xt_all if half_px >= 53.4 or abs(v - round(v)) < 1e-9]

    common = dict(showline=True, linecolor="black", linewidth=2, ticks="outside", tickcolor="black",
                  tickwidth=2, showgrid=False, zeroline=False,
                  tickfont=dict(family=FONT, size=TICK_FS, color="black"))
    layout["xaxis" + k] = dict(domain=[fx(left), fx(left + PW)], anchor="y" + k, range=xr,
                               tickvals=xt, ticktext=["%.1f" % v for v in xt], ticklen=10,
                               ticklabelstandoff=3,
                               minor=dict(tick0=0, dtick=0.5, ticks="outside", ticklen=10, tickwidth=2,
                                          tickcolor="black", showgrid=False),
                               **common)
    layout["yaxis" + k] = dict(domain=[fy(bottom), fy(top)], anchor="x" + k, range=yr,
                               tickvals=yt, ticktext=["%.1f" % v for v in yt], ticklen=9,
                               ticklabelstandoff=-1, **common)

    annotations.append(dict(text="R<sup>2</sup> = " + r2[i], x=fx(left + 3), y=fy(top - 16.5),
                            xref="paper", yref="paper", xanchor="left", yanchor="middle", showarrow=False,
                            font=dict(family=FONT, size=R2_FS, color="black")))
    annotations.append(dict(text="Predicted", x=fx(left - 73), y=fy(top + PH / 2), textangle=-90,
                            xref="paper", yref="paper", xanchor="center", yanchor="middle", showarrow=False,
                            font=dict(family=FONT, size=TITLE_FS, color="black")))
    txt, ax_px, anch = clip_label(names[i], left + PW / 2, (c + 1) * COL_STEP - 3)
    annotations.append(dict(text=txt, x=fx(ax_px), y=fy(bottom + 76),
                            xref="paper", yref="paper", xanchor=anch, yanchor="middle", showarrow=False,
                            font=dict(family=FONT, size=TITLE_FS, color="black")))

fig.update_layout(width=W, height=H, margin=dict(l=0, r=0, t=0, b=0, pad=0),
                  paper_bgcolor="white", plot_bgcolor="white", showlegend=False,
                  annotations=annotations, **layout)
fig.write_html("out.html")
